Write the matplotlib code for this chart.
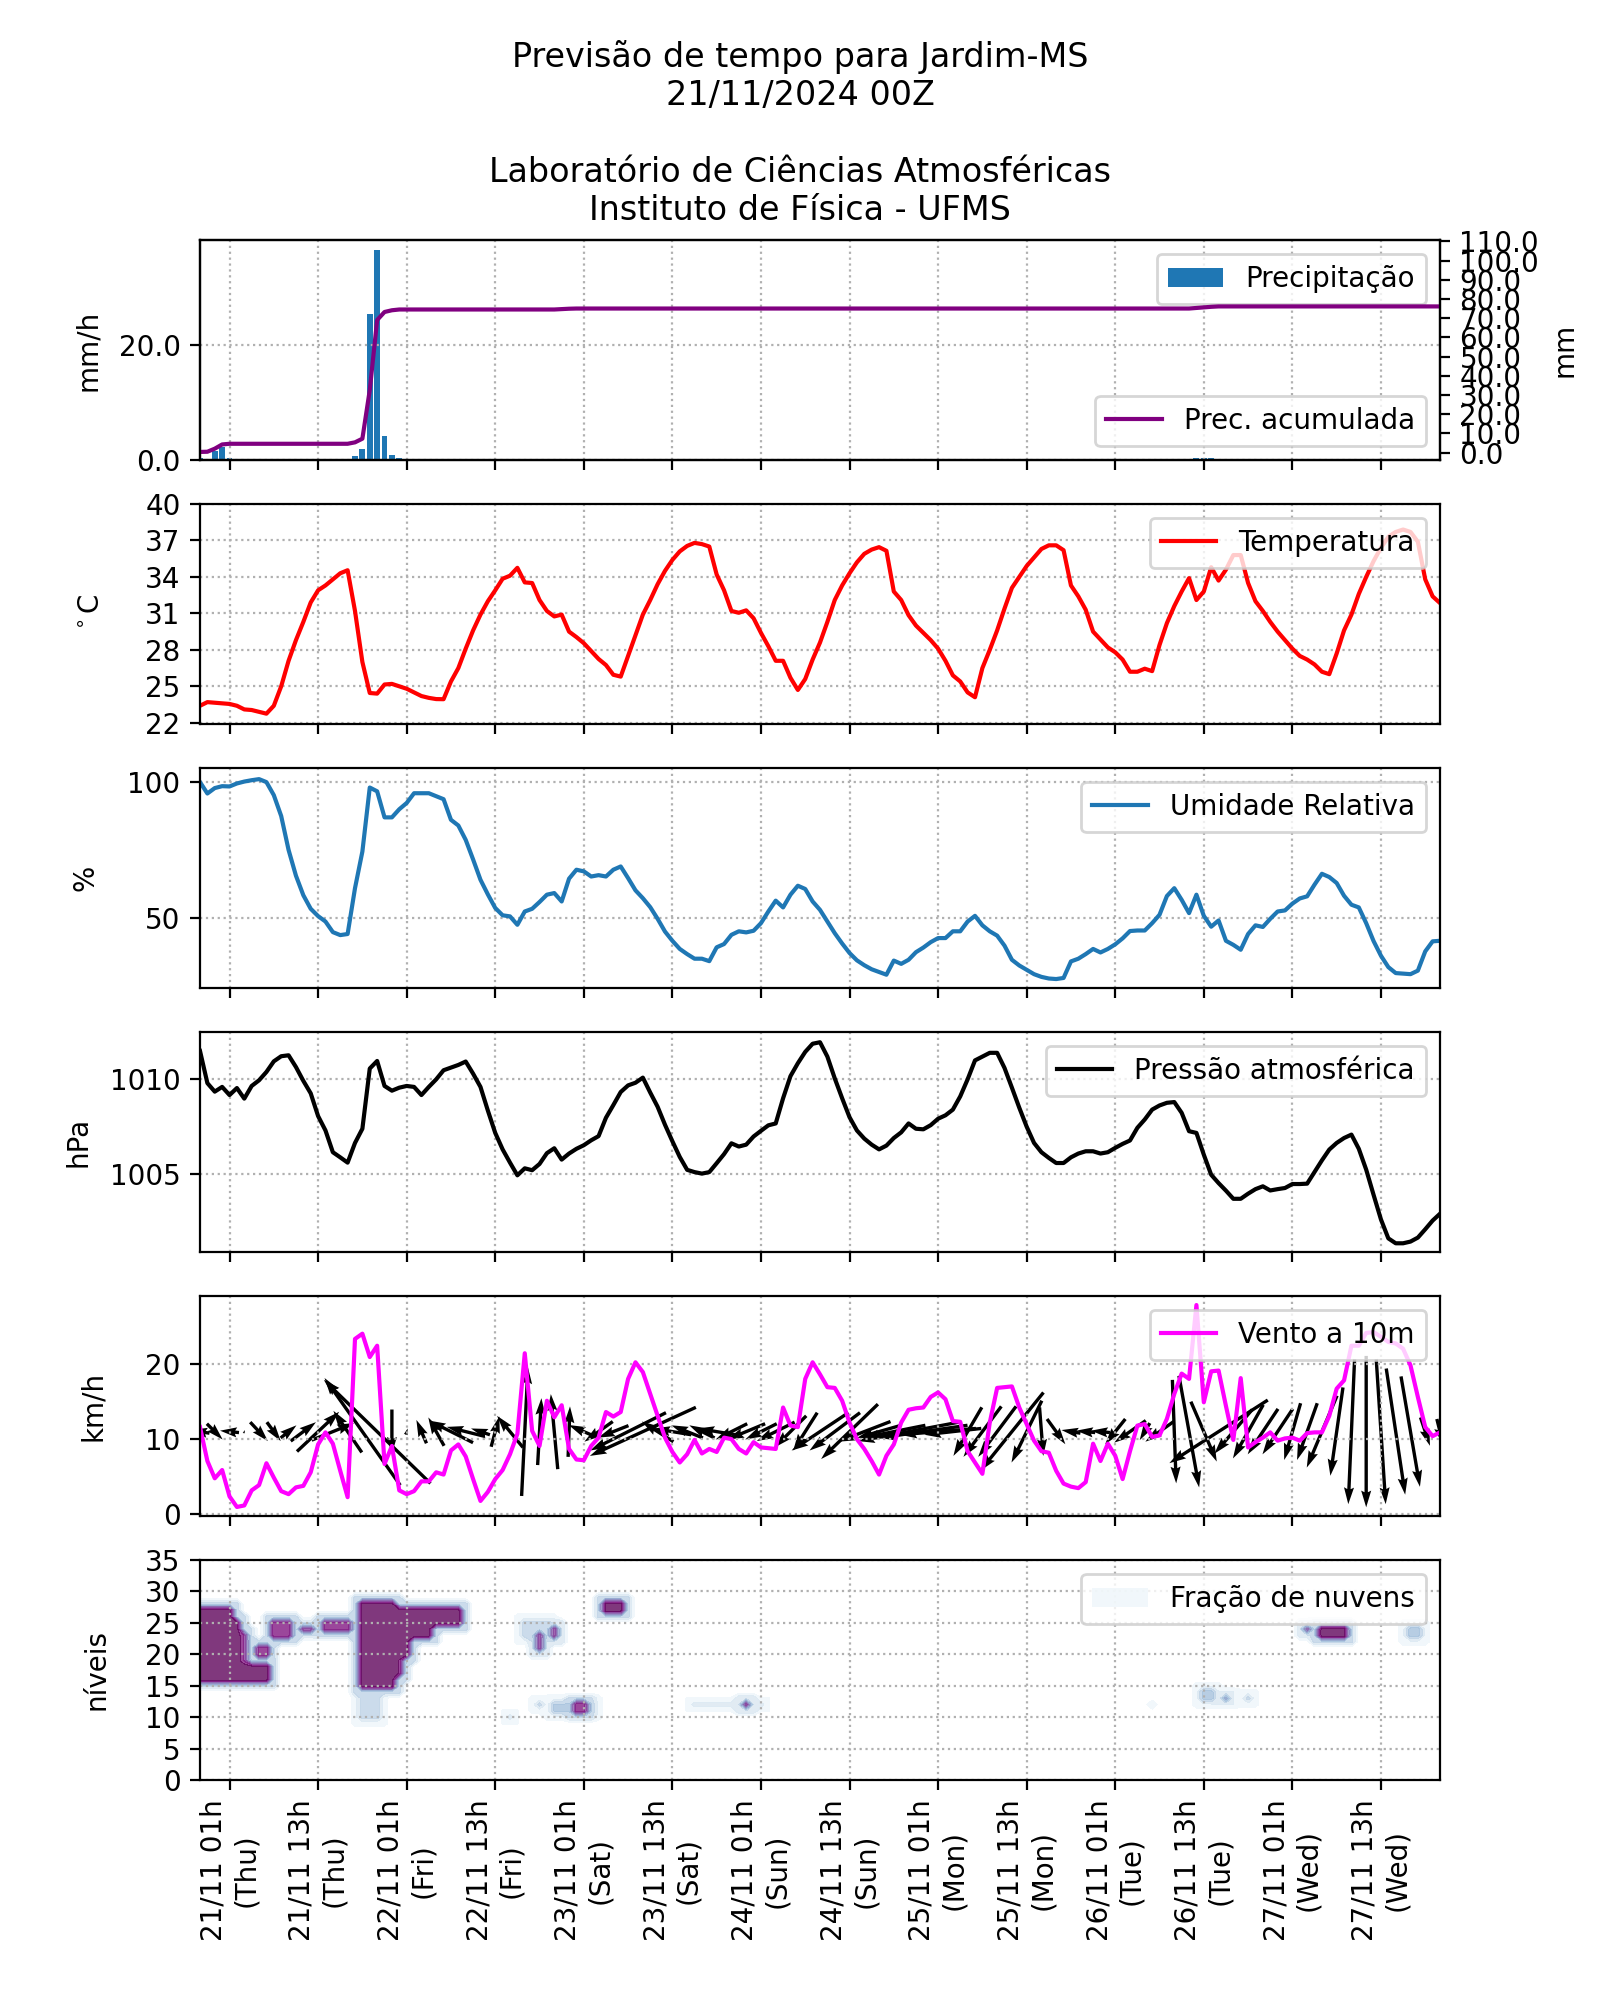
import numpy as np
import pandas as pd
import matplotlib
matplotlib.use('Agg')
import matplotlib.pyplot as plt
from matplotlib.patches import Patch
from matplotlib.ticker import FormatStrFormatter

# Previsao horaria a partir de 21/11/2024 00Z (horario local -3h)
inicio = '2024-11-20 21:00'
n = 169
horas = np.arange(n)
datas = pd.date_range(start=inicio, periods=n, freq='h')

# precipitacao (mm/h)
prec = [0.3, 0.1, 1.6, 2.2, 0.35, 0, 0, 0, 0, 0, 0, 0,
        0, 0, 0, 0, 0, 0, 0, 0, 0, 0.75, 1.9, 25.3,
        36.5, 4.2, 0.9, 0.4, 0, 0, 0, 0, 0, 0, 0, 0,
        0, 0, 0, 0, 0, 0, 0, 0, 0, 0, 0, 0,
        0, 0.2, 0.2, 0.1, 0, 0, 0, 0, 0, 0, 0, 0,
        0, 0, 0, 0, 0, 0, 0, 0, 0, 0, 0, 0,
        0, 0, 0, 0, 0, 0, 0, 0, 0, 0, 0, 0,
        0, 0, 0, 0, 0, 0, 0, 0, 0, 0, 0, 0,
        0, 0, 0, 0, 0, 0, 0, 0, 0, 0, 0, 0,
        0, 0, 0, 0, 0, 0, 0, 0, 0, 0, 0, 0,
        0, 0, 0, 0, 0, 0, 0, 0, 0, 0, 0, 0,
        0, 0, 0, 0.3, 0.3, 0.3, 0.2, 0, 0, 0, 0, 0,
        0, 0, 0, 0, 0, 0, 0, 0, 0, 0, 0, 0,
        0, 0, 0, 0, 0, 0, 0, 0, 0, 0, 0, 0,
        0]

temp = [23.4, 23.7, 23.65, 23.6, 23.55, 23.4, 23.1, 23.05, 22.9, 22.75, 23.4, 25.0,
        27.1, 28.8, 30.3, 31.9, 32.9, 33.3, 33.8, 34.3, 34.55, 31.2, 27.0, 24.45,
        24.4, 25.15, 25.2, 25.0, 24.8, 24.5, 24.2, 24.05, 23.95, 23.94, 25.4, 26.5,
        28.1, 29.6, 30.9, 32.0, 32.9, 33.85, 34.1, 34.75, 33.55, 33.5, 32.1, 31.2,
        30.75, 30.9, 29.5, 29.05, 28.55, 27.9, 27.25, 26.75, 25.95, 25.8, 27.5, 29.2,
        30.9, 32.1, 33.4, 34.5, 35.4, 36.1, 36.55, 36.8, 36.7, 36.5, 34.2, 32.9,
        31.2, 31.05, 31.25, 30.6, 29.4, 28.3, 27.1, 27.1, 25.7, 24.7, 25.6, 27.2,
        28.6, 30.3, 32.1, 33.3, 34.3, 35.2, 35.9, 36.25, 36.45, 36.15, 32.8, 32.1,
        30.85, 30.0, 29.4, 28.8, 28.1, 27.1, 25.9, 25.4, 24.5, 24.1, 26.5, 28.0,
        29.6, 31.4, 33.1, 34.0, 34.9, 35.6, 36.3, 36.6, 36.6, 36.2, 33.3, 32.4,
        31.3, 29.5, 28.85, 28.2, 27.8, 27.2, 26.2, 26.2, 26.45, 26.25, 28.4, 30.2,
        31.6, 32.8, 33.9, 32.1, 32.8, 34.8, 33.7, 34.6, 35.8, 35.8, 33.5, 32.0,
        31.2, 30.3, 29.5, 28.8, 28.1, 27.5, 27.2, 26.8, 26.2, 26.0, 27.7, 29.6,
        30.9, 32.6, 34.0, 35.3, 36.4, 37.3, 37.7, 37.9, 37.7, 36.9, 33.8, 32.4,
        31.85]

umid = [100, 95.8, 97.8, 98.5, 98.4, 99.5, 100.2, 100.7, 101.1, 100, 95.2, 87.5,
        75, 65.5, 58.3, 53.3, 50.6, 48.6, 44.7, 43.6, 44, 60.9, 74.4, 98,
        96.6, 87, 87, 90, 92.3, 95.9, 95.9, 95.9, 94.8, 93.7, 86.1, 84,
        78.7, 71.5, 64, 58.6, 53.6, 50.9, 50.5, 47.4, 52.3, 53.3, 55.8, 58.5,
        59.1, 56, 64.4, 67.7, 67.1, 65.2, 65.7, 65.2, 67.7, 68.9, 64.6, 60.1,
        57.2, 53.9, 49.6, 44.9, 41.5, 38.5, 36.6, 34.9, 34.9, 34, 39.1, 40.3,
        43.7, 45, 44.6, 45.2, 48, 52.3, 56.3, 53.8, 58.5, 61.8, 60.6, 56,
        52.9, 48.6, 44.3, 40.5, 37, 34.3, 32.5, 31, 30, 29, 34.2, 33,
        34.5, 37.3, 39, 41, 42.5, 42.5, 45, 45, 48.6, 50.7, 47.2, 45,
        43.4, 39.7, 34.5, 32.4, 30.8, 29.2, 28.2, 27.6, 27.4, 27.8, 33.9, 34.9,
        36.6, 38.5, 37.2, 38.5, 40.2, 42.4, 45.1, 45.3, 45.3, 48, 51.1, 58,
        60.9, 56.6, 51.7, 58.5, 50.7, 46.7, 49, 41.5, 40, 38.2, 44, 47.2,
        46.6, 49.6, 52.3, 52.7, 55.2, 57.1, 57.9, 62.2, 66.2, 65, 62.8, 58.1,
        54.8, 53.8, 48, 41.4, 36, 31.8, 29.6, 29.4, 29.2, 30.5, 37.6, 41.3,
        41.5]

pres = [1011.5, 1009.8, 1009.35, 1009.6, 1009.17, 1009.54, 1008.98, 1009.65, 1009.95, 1010.39, 1010.95, 1011.22,
        1011.27, 1010.65, 1009.92, 1009.26, 1008.06, 1007.3, 1006.15, 1005.88, 1005.6, 1006.64, 1007.39, 1010.57,
        1010.97, 1009.65, 1009.4, 1009.56, 1009.65, 1009.6, 1009.17, 1009.6, 1010.0, 1010.48, 1010.62, 1010.76,
        1010.94, 1010.3, 1009.6, 1008.35, 1007.17, 1006.3, 1005.6, 1004.93, 1005.3, 1005.2, 1005.53, 1006.1,
        1006.36, 1005.76, 1006.08, 1006.33, 1006.52, 1006.78, 1007.0, 1007.97, 1008.64, 1009.33, 1009.68, 1009.82,
        1010.09, 1009.3, 1008.55, 1007.6, 1006.73, 1005.9, 1005.22, 1005.1, 1005.02, 1005.1, 1005.57, 1006.05,
        1006.62, 1006.45, 1006.55, 1006.98, 1007.28, 1007.57, 1007.67, 1009.0, 1010.17, 1010.85, 1011.45, 1011.88,
        1011.96, 1011.2, 1010.05, 1009.0, 1008.0, 1007.3, 1006.87, 1006.55, 1006.3, 1006.5, 1006.9, 1007.2,
        1007.67, 1007.39, 1007.36, 1007.58, 1007.92, 1008.1, 1008.4, 1009.1, 1010.0, 1011.0, 1011.2, 1011.4,
        1011.4, 1010.6, 1009.56, 1008.5, 1007.5, 1006.64, 1006.15, 1005.85, 1005.58, 1005.58, 1005.88, 1006.08,
        1006.2, 1006.2, 1006.08, 1006.15, 1006.38, 1006.59, 1006.77, 1007.44, 1007.88, 1008.4, 1008.62, 1008.76,
        1008.8, 1008.23, 1007.26, 1007.17, 1006.02, 1004.96, 1004.52, 1004.12, 1003.69, 1003.69, 1003.96, 1004.2,
        1004.35, 1004.13, 1004.2, 1004.26, 1004.47, 1004.47, 1004.49, 1005.1, 1005.72, 1006.29, 1006.64, 1006.9,
        1007.08, 1006.33, 1005.23, 1003.9, 1002.6, 1001.6, 1001.34, 1001.34, 1001.43, 1001.64, 1002.08, 1002.54,
        1002.9]

vento = [11.6, 7.1, 4.8, 5.9, 2.4, 1.0, 1.2, 3.2, 3.9, 6.8, 4.9, 3.1,
         2.7, 3.6, 3.8, 5.6, 9.3, 10.9, 9.4, 5.8, 2.3, 23.3, 24.0, 20.9,
         22.4, 6.7, 9.1, 3.2, 2.7, 3.1, 4.4, 4.4, 5.6, 5.3, 8.5, 9.3,
         7.7, 4.7, 1.8, 3.0, 4.7, 5.9, 8.0, 10.7, 21.4, 11.1, 9.1, 15.1,
         12.9, 14.5, 8.7, 7.3, 7.2, 9.1, 10.2, 13.6, 13.0, 13.6, 18.0, 20.2,
         18.9, 16.0, 13.1, 10.2, 8.3, 6.9, 8.0, 9.9, 8.1, 8.7, 8.3, 10.2,
         10.0, 8.7, 8.1, 9.6, 8.9, 8.8, 8.7, 14.2, 11.8, 11.6, 18.0, 20.2,
         18.6, 16.9, 16.8, 15.1, 12.2, 10.0, 8.7, 7.1, 5.3, 7.8, 9.3, 12.2,
         13.9, 14.1, 14.2, 15.6, 16.2, 15.3, 12.4, 12.3, 8.4, 6.9, 5.4, 12.2,
         16.8, 16.9, 17.0, 14.2, 12.0, 9.8, 8.4, 8.2, 5.8, 4.1, 3.7, 3.5,
         4.3, 9.4, 7.1, 9.4, 7.8, 4.7, 8.4, 11.8, 12.0, 10.3, 10.5, 12.7,
         16.0, 18.7, 18.0, 27.8, 14.9, 19.0, 19.1, 14.4, 9.9, 18.1, 8.9, 9.6,
         10.2, 10.9, 9.8, 10.1, 10.2, 9.8, 10.8, 10.9, 10.9, 13.1, 16.7, 17.8,
         22.4, 22.4, 24.1, 24.2, 23.6, 22.9, 22.7, 22.0, 19.8, 15.6, 11.6, 10.4,
         10.9]

# setas de vento a cada 2 horas (componentes em km/h)
u10 = [-3, 2.5, -3, 0.2, 2.8, 2.2, 2.5, 4, 6.7, 6.7, -4.5, -12,
       -16.9, 0, 0.3, -1.6, -2.5, -7, -6, -3, 1.3, -4.1, 1, 0.6,
       -1.1, 0.3, -4.8, -4.5, -4.8, -12, -16.8, -5, -6, -5, -4, -6,
       -5, -6, -5, -6, -5, -3.8, -9, -8, -9, -8.3, -7, -10,
       -16, -14, -12, -9, -4.5, -6, -6, -10, -4.8, 0.6, 2.9, -3,
       -3, -3, -3.2, -5, -1.6, -4.5, 0.6, 3.2, 4.1, -15.6, -6, -4.8,
       -4.8, -4.8, -2.6, -3.2, -4.8, -2, -1, 0, 1.5, 3, 3, 1.5,
       1]
v10 = [0.5, -2.5, 0.3, 0.5, -3, -3, 2, 3, 6.3, 2.7, 6.6, 17,
       16.4, -7, 1, 3.7, 4.5, 3.5, 1.5, 1, 4.8, 5, 20.4, 10.6,
       11.9, 8, 2.1, -3.2, -1.9, -6, -7.7, 3.2, 1, 2, 2, 1,
       -2.5, -2.5, -2.5, -3, -5, -6, -6, -6, -8.7, -3.2, -2, -2,
       -3, -2, -1, -1, -7.7, -8, -8, -12.4, -9.8, -7.7, -4, 0.5,
       0.3, 0.3, -4, -3.5, -2.7, -3.2, -16.4, -17.7, -9.5, -10, -7, -8.5,
       -7.2, -7.2, -9, -9, -11.4, -14, -23, -24, -23, -20, -17.5, -4.5,
       -4]

# nuvens: (hora inicial, hora final, nivel inicial, nivel final, fracao)
nuvens_blocos = [
    (0, 4, 16, 27, 1.0), (5, 5, 17, 25, 1.0), (6, 6, 19, 23, 0.8),
    (5, 9, 16, 18, 1.0), (8, 9, 20, 21, 0.9), (10, 12, 23, 25, 0.9),
    (14, 15, 24, 24, 0.8), (17, 20, 24, 25, 0.9), (22, 26, 15, 28, 1.0),
    (22, 24, 10, 14, 0.3), (27, 28, 20, 27, 1.0), (29, 31, 23, 27, 1.0),
    (32, 35, 25, 27, 1.0), (27, 27, 17, 19, 0.9),
    (44, 47, 23, 25, 0.3), (46, 46, 21, 23, 0.8), (48, 48, 23, 24, 0.8),
    (55, 57, 27, 28, 1.0), (48, 53, 11, 12, 0.35), (51, 52, 11, 12, 0.9),
    (67, 76, 12, 12, 0.2), (74, 74, 12, 12, 0.8), (42, 42, 10, 10, 0.2),
    (46, 46, 12, 12, 0.3), (136, 137, 13, 14, 0.4), (139, 139, 13, 13, 0.5),
    (142, 142, 13, 13, 0.3), (150, 150, 24, 24, 0.7), (152, 155, 23, 24, 1.0),
    (164, 165, 23, 24, 0.4), (129, 129, 12, 12, 0.1),
]
niveis = np.arange(36)

nuv = np.zeros((len(niveis), n))
for h0, h1, l0, l1, f in nuvens_blocos:
    # borda difusa em volta de cada nuvem
    a, b = max(l0 - 1, 0), max(h0 - 1, 0)
    nuv[a:l1 + 2, b:h1 + 2] = np.maximum(nuv[a:l1 + 2, b:h1 + 2], 0.3 * f)
for h0, h1, l0, l1, f in nuvens_blocos:
    nuv[l0:l1 + 1, h0:h1 + 1] = np.maximum(nuv[l0:l1 + 1, h0:h1 + 1], f)

fig, axs = plt.subplots(6, 1, figsize=(8, 10), sharex=True)
fig.suptitle('Previsão de tempo para Jardim-MS\n21/11/2024 00Z\n\n'
             'Laboratório de Ciências Atmosféricas\nInstituto de Física - UFMS')

# posicao dos rotulos do eixo y (fracao do eixo)
pos_rotulo = [-0.079, -0.077, -0.081, -0.087, -0.075, -0.072]

# precipitacao
ax = axs[0]
ax.bar(horas, prec, label='Precipitação')
ax.set_ylim(0, 38.2)
ax.set_yticks([0, 20])
ax.yaxis.set_major_formatter(FormatStrFormatter('%.1f'))
ax.set_ylabel('mm/h')
ax.grid(linestyle=':')
ax.legend(loc='upper right')
ax2 = ax.twinx()
ax2.plot(horas, np.cumsum(prec), color='purple', label='Prec. acumulada')
ax2.set_ylim(-3.9, 110.7)
ax2.set_yticks(np.arange(0, 111, 10))
ax2.yaxis.set_major_formatter(FormatStrFormatter('%.1f'))
ax2.set_ylabel('mm')
ax2.legend(loc='lower right')

# temperatura
ax = axs[1]
ax.plot(horas, temp, color='red', label='Temperatura')
ax.set_ylim(21.9, 40)
ax.set_yticks(np.arange(22, 41, 3))
ax.set_ylabel('$^\\circ$C')
ax.grid(linestyle=':')
ax.legend(loc='upper right')

# umidade
ax = axs[2]
ax.plot(horas, umid, color='tab:blue', label='Umidade Relativa')
ax.set_ylim(24.1, 105.2)
ax.set_yticks([50, 100])
ax.set_ylabel('%')
ax.grid(linestyle=':')
ax.legend(loc='upper right')

# pressao
ax = axs[3]
ax.plot(horas, pres, color='black', label='Pressão atmosférica')
ax.set_ylim(1000.88, 1012.5)
ax.set_yticks([1005, 1010])
ax.set_ylabel('hPa')
ax.grid(linestyle=':')
ax.legend(loc='upper right')

# vento
ax = axs[4]
ax.plot(horas, vento, color='magenta', label='Vento a 10m')
hs = horas[::2]
ax.quiver(hs, np.full(len(hs), 11.0), u10, v10, pivot='middle',
          scale=31.7, scale_units='inches', width=0.0027)
ax.set_ylim(-0.2, 29)
ax.set_yticks([0, 10, 20])
ax.set_ylabel('km/h')
ax.grid(linestyle=':')
ax.legend(loc='upper right')

# nuvens
ax = axs[5]
niv_cont = np.linspace(0.05, 1.01, 11)
cs = ax.contourf(horas, niveis, nuv, levels=niv_cont, cmap='BuPu', alpha=0.8)
ax.set_ylim(0, 35)
ax.set_yticks(np.arange(0, 36, 5))
ax.set_ylabel('níveis')
ax.grid(linestyle=':')
cor = plt.get_cmap('BuPu')(0.05)
ax.legend(handles=[Patch(facecolor=cor, alpha=0.8, label='Fração de nuvens')],
          loc='upper right')

for a, px in zip(axs, pos_rotulo):
    a.yaxis.set_label_coords(px, 0.5)

ax.set_xlim(0, n - 1)
pos = horas[4::12]
rotulos = [d.strftime('%d/%m %Hh\n(%a)') for d in datas[4::12]]
ax.set_xticks(pos)
ax.set_xticklabels(rotulos, rotation=90)

plt.savefig('out.png', dpi=200)
